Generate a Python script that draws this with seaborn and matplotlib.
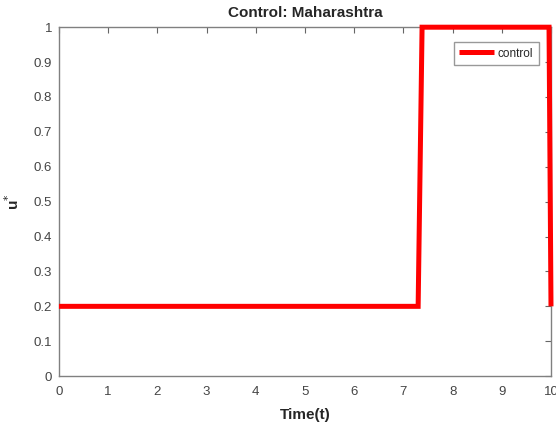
import matplotlib
matplotlib.use("Agg")
import matplotlib.pyplot as plt
import seaborn as sns
import pandas as pd

# control profile
time_t = [0.0, 7.30, 7.38, 9.96, 10.0]
u_star = [0.2, 0.2, 1.0, 1.0, 0.2]

sns.set_style("white")
plt.rcParams['font.family'] = ['Liberation Sans', 'DejaVu Sans']

df = pd.DataFrame({"t": time_t, "u": u_star})

fig = plt.figure(figsize=(5.56, 4.25), dpi=100)
ax = fig.add_axes([0.106, 0.115, 0.885, 0.821])
sns.lineplot(data=df, x="t", y="u", sort=False, color="red", linewidth=3.6,
             label="control", ax=ax, clip_on=False, zorder=5,
             solid_capstyle="butt", solid_joinstyle="miter")

ax.set_xlim(0, 10)
ax.set_ylim(0, 1)
ax.set_xticks(range(0, 11))
ax.set_yticks([i / 10 for i in range(11)])
ax.set_yticklabels(["0", "0.1", "0.2", "0.3", "0.4", "0.5", "0.6", "0.7", "0.8", "0.9", "1"])
ax.tick_params(direction="in", length=4, width=0.8, colors="#666666", labelsize=9.5,
               top=True, right=True, labelcolor="#444444")
ax.tick_params(axis="x", pad=7)
ax.tick_params(axis="y", pad=5)
for s in ax.spines.values():
    s.set_color("#808080")
    s.set_linewidth(1.0)

ax.set_title("Control: Maharashtra", fontsize=11, fontweight="bold", pad=7)
ax.set_xlabel("Time(t)", fontsize=11, fontweight="bold", labelpad=7)
ax.set_ylabel("u$^{*}$", fontsize=11, fontweight="bold", labelpad=8)

leg = ax.legend(loc="upper right", fontsize=8.5, frameon=True, fancybox=False,
                handlelength=3.0, handletextpad=0.3, borderaxespad=0.0,
                borderpad=0.45, bbox_to_anchor=(0.975, 0.957))
leg.get_frame().set_edgecolor("#808080")
leg.get_frame().set_linewidth(1.0)
leg.set_zorder(6)

fig.savefig("out.png", dpi=100)
